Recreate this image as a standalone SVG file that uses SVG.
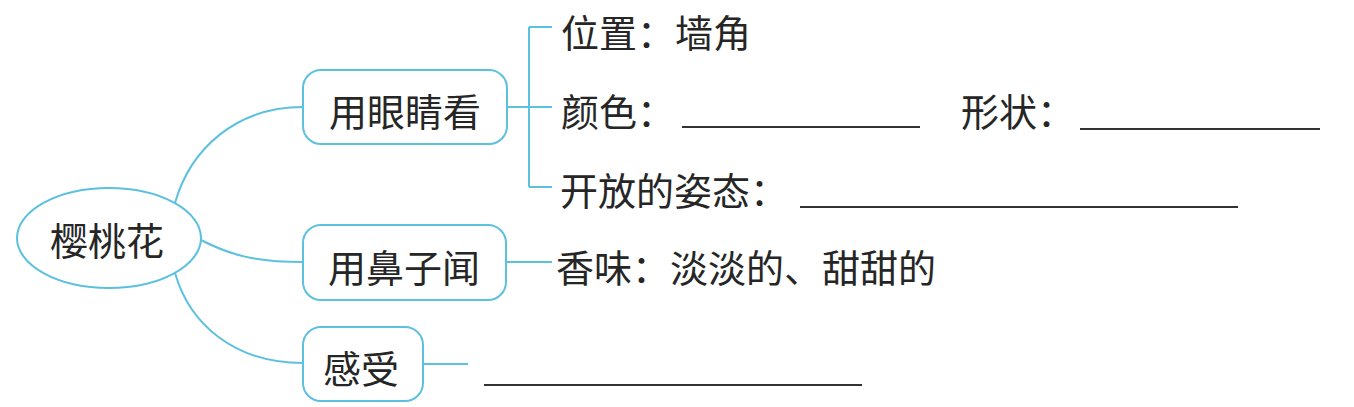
<svg xmlns="http://www.w3.org/2000/svg" width="1354" height="407" viewBox="0 0 1354 407">
<style>
.n{fill:#fff;stroke:#5cc0df;stroke-width:2}
.c{fill:none;stroke:#5cc0df;stroke-width:2}
.t{font-family:"Noto Sans CJK SC","Noto Sans CJK JP",sans-serif;font-size:38px;fill:#262626;dominant-baseline:central}
.m{text-anchor:middle}
.u{stroke:#333;stroke-width:2}
</style>
<rect width="1354" height="407" fill="#fff"/>
<g id="connectors">
<path class="c" d="M175,203 C190,150 235,107 303,107"/>
<path class="c" d="M201,240 C230,255 255,262 303,262"/>
<path class="c" d="M175,273 C190,325 235,363 303,363"/>
<path class="c" d="M507,107 H552 M529,27 V187 M529,27 H552 M529,187 H552"/>
<path class="c" d="M506,262 H552"/>
<path class="c" d="M423,364 H468"/>
</g>
<g id="root">
<ellipse class="n" cx="109" cy="238" rx="92" ry="50"/>
<text class="t m" x="107" y="238">樱桃花</text>
</g>
<g id="eyes">
<rect class="n" x="303" y="70" width="204" height="74" rx="18"/>
<text class="t m" x="405" y="109">用眼睛看</text>
</g>
<g id="nose">
<rect class="n" x="303" y="225" width="203" height="75" rx="18"/>
<text class="t m" x="404" y="265">用鼻子闻</text>
</g>
<g id="feel">
<rect class="n" x="303" y="327" width="120" height="74" rx="18"/>
<text class="t m" x="361" y="366">感受</text>
</g>
<g id="position"><text class="t" x="561" y="30">位置：墙角</text></g>
<g id="color"><text class="t" x="561" y="109">颜色：</text><line class="u" x1="682" y1="127" x2="920" y2="127"/></g>
<g id="shape"><text class="t" x="961" y="109">形状：</text><line class="u" x1="1080" y1="129" x2="1320" y2="129"/></g>
<g id="pose"><text class="t" x="560" y="188">开放的姿态：</text><line class="u" x1="800" y1="207" x2="1238" y2="207"/></g>
<g id="smell"><text class="t" x="556" y="265">香味：淡淡的、甜甜的</text></g>
<g id="feeling"><line class="u" x1="484" y1="385" x2="862" y2="385"/></g>
</svg>
